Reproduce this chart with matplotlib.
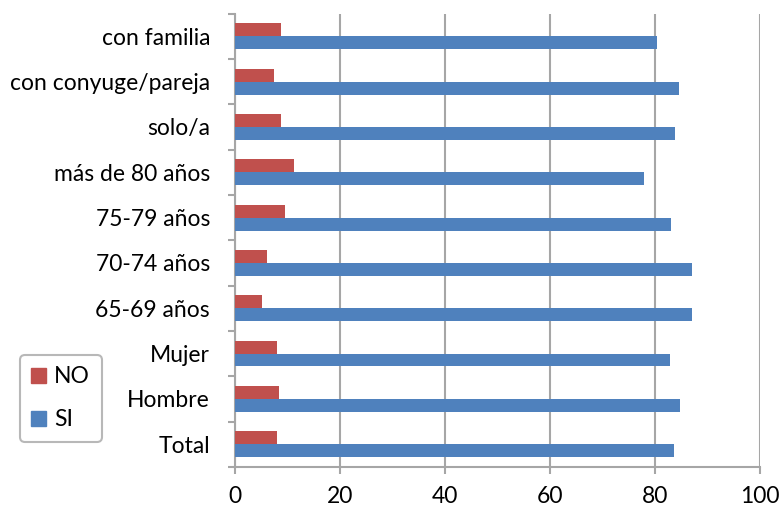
import matplotlib
matplotlib.use("Agg")
import matplotlib.pyplot as plt
import numpy as np
from matplotlib.patches import Patch

plt.rcParams.update({"font.family": ["Lato", "DejaVu Sans"], "font.size": 16.5})

categories = ["Total", "Hombre", "Mujer", "65-69 años", "70-74 años",
              "75-79 años", "más de 80 años", "solo/a",
              "con conyuge/pareja", "con familia"]
no_vals = [8.0, 8.4, 7.9, 5.1, 6.1, 9.6, 11.2, 8.8, 7.4, 8.8]
si_vals = [83.6, 84.7, 82.9, 87.0, 87.0, 83.1, 77.9, 83.8, 84.5, 80.3]

NO_COLOR = "#C0504D"
SI_COLOR = "#4F81BD"
GRID = "#A6A6A6"

fig = plt.figure(figsize=(7.81, 5.08), dpi=100)
ax = fig.add_axes([0.301, 0.081, 0.672, 0.892])

y = np.arange(len(categories))
h = 0.285
ax.barh(y - h / 2, si_vals, height=h, color=SI_COLOR, zorder=3)
ax.barh(y + h / 2, no_vals, height=h, color=NO_COLOR, zorder=3)

ax.set_xlim(0, 100)
ax.set_ylim(-0.5, len(categories) - 0.5)
ax.set_xticks(np.arange(0, 101, 20))
ax.set_yticks(y)
ax.set_yticklabels(categories)
ax.set_yticks(np.arange(-0.5, len(categories), 1), minor=True)
ax.tick_params(axis="y", which="major", length=0, pad=18)
ax.tick_params(axis="y", which="minor", length=5, width=1.5, color=GRID, direction="out")
ax.tick_params(axis="x", length=5, width=1.5, color=GRID, pad=9)
ax.xaxis.grid(True, color=GRID, linewidth=1.5, zorder=0)

for side in ["top", "right"]:
    ax.spines[side].set_visible(False)
for side in ["left", "bottom"]:
    ax.spines[side].set_color(GRID)
    ax.spines[side].set_linewidth(1.5)

handles = [Patch(color=NO_COLOR, label="NO"), Patch(color=SI_COLOR, label="SI")]
leg = fig.legend(handles=handles, loc="upper left",
                 bbox_to_anchor=(20 / 781, 1 - 355 / 508), borderaxespad=0,
                 frameon=True, fancybox=True, handlelength=0.65, handleheight=0.65,
                 handletextpad=0.35, labelspacing=0.95, borderpad=0.5)
leg.get_frame().set_edgecolor(GRID)
leg.get_frame().set_linewidth(1.5)

fig.savefig("out.png", dpi=100, facecolor="white")
